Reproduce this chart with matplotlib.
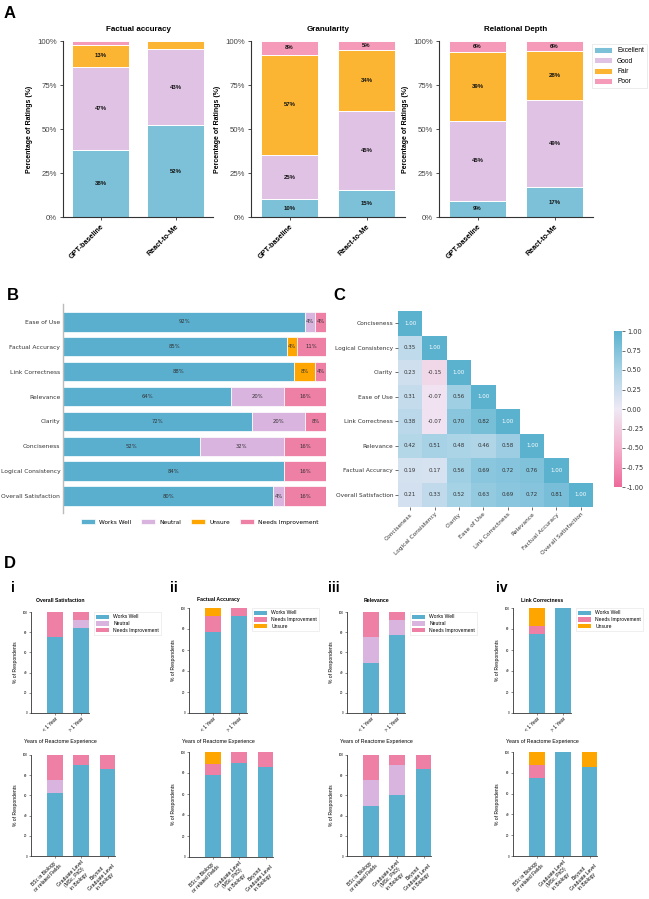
import numpy as np
import matplotlib
matplotlib.use("Agg")
import matplotlib.pyplot as plt
from matplotlib.colors import LinearSegmentedColormap
from matplotlib.ticker import PercentFormatter
import matplotlib.patches as mpatches

# ------------------------------------------------------------------ data
# Panel A (percent of ratings; order Excellent, Good, Fair, Poor)
a_models = ["GPT-baseline", "React-to-Me"]
a_ratings = ["Excellent", "Good", "Fair", "Poor"]
a_titles = ["Factual accuracy", "Granularity", "Relational Depth"]
factual_gpt = [38.0, 47.0, 13.0, 2.0]
factual_react = [52.0, 43.4, 4.6, 0.0]
granularity_gpt = [10.0, 25.3, 57.0, 7.7]
granularity_react = [15.1, 45.4, 34.4, 5.1]
relational_gpt = [9.2, 45.4, 39.4, 6.0]
relational_react = [17.0, 49.2, 28.1, 5.7]

# Panel B (percent; top to bottom)
b_criteria = ["Ease of Use", "Factual Accuracy", "Link Correctness", "Relevance",
              "Clarity", "Conciseness", "Logical Consistency", "Overall Satisfaction"]
b_works_well = [92, 85, 88, 64, 72, 52, 84, 80]
b_neutral = [4, 0, 0, 20, 20, 32, 0, 4]
b_unsure = [0, 4, 8, 0, 0, 0, 0, 0]
b_needs_impr = [4, 11, 4, 16, 8, 16, 16, 16]

# Panel C (lower-triangle correlations)
c_labels = ["Conciseness", "Logical Consistency", "Clarity", "Ease of Use",
            "Link Correctness", "Relevance", "Factual Accuracy", "Overall Satisfaction"]
c_rows = [
    [1.00],
    [0.35, 1.00],
    [0.23, -0.15, 1.00],
    [0.31, -0.07, 0.56, 1.00],
    [0.38, -0.07, 0.70, 0.82, 1.00],
    [0.42, 0.51, 0.48, 0.46, 0.58, 1.00],
    [0.19, 0.17, 0.56, 0.69, 0.72, 0.76, 1.00],
    [0.21, 0.33, 0.52, 0.63, 0.69, 0.72, 0.81, 1.00],
]

# Panel D
d_years = ["< 1 Year", "> 1 Year"]
d_edu = ["BSc in Biology\nor related Fields", "Graduate Level\n(MSc, PhD)\nin Biology",
         "Beyond\nGraduate Level\nin Biology"]
d_titles = ["Overall Satisfaction", "Factual Accuracy", "Relevance", "Link Correctness"]
# i Overall Satisfaction: Works Well, Neutral, Needs Improvement
i_years_ww = [75.0, 84.6]; i_years_neu = [0.0, 7.7]; i_years_ni = [25.0, 7.7]
i_edu_ww = [62.5, 90.0, 85.7]; i_edu_neu = [12.5, 0.0, 0.0]; i_edu_ni = [25.0, 10.0, 14.3]
# ii Factual Accuracy: Works Well, Needs Improvement, Unsure
ii_years_ww = [76.9, 92.3]; ii_years_ni = [15.4, 7.7]; ii_years_un = [7.7, 0.0]
ii_edu_ww = [77.8, 90.0, 85.7]; ii_edu_ni = [11.1, 10.0, 14.3]; ii_edu_un = [11.1, 0.0, 0.0]
# iii Relevance: Works Well, Neutral, Needs Improvement
iii_years_ww = [50.0, 76.9]; iii_years_neu = [25.0, 15.4]; iii_years_ni = [25.0, 7.7]
iii_edu_ww = [50.0, 60.0, 85.7]; iii_edu_neu = [25.0, 30.0, 0.0]; iii_edu_ni = [25.0, 10.0, 14.3]
# iv Link Correctness: Works Well, Needs Improvement, Unsure
iv_years_ww = [75.0, 100.0]; iv_years_ni = [8.3, 0.0]; iv_years_un = [16.7, 0.0]
iv_edu_ww = [75.0, 100.0, 85.7]; iv_edu_ni = [12.5, 0.0, 0.0]; iv_edu_un = [12.5, 0.0, 14.3]

# ------------------------------------------------------------------ style
W, H = 649, 899
fig = plt.figure(figsize=(W / 100, H / 100), dpi=100)
ARIAL = ["Liberation Sans", "DejaVu Sans"]
DEJA = ["DejaVu Sans"]


def add_ax(x0, y0, x1, y1):
    return fig.add_axes([x0 / W, 1 - y1 / H, (x1 - x0) / W, (y1 - y0) / H])


def ftext(x, y, s, **kw):
    fig.text(x / W, 1 - y / H, s, **kw)


A_COLORS = ["#7CC1D7", "#E0C2E4", "#FBB532", "#F59AB8"]
WW, NEU, UNS, NI = "#5AAFCF", "#D9B4DF", "#FFA500", "#EE7FA5"

# ------------------------------------------------------------------ panel A
ftext(4, 6, "A", fontsize=12, fontweight="bold", va="top", family=ARIAL)
a_data = [(factual_gpt, factual_react), (granularity_gpt, granularity_react),
          (relational_gpt, relational_react)]
a_boxes = [(63, 41, 213, 217), (251, 41, 405, 217), (439, 41, 593, 217)]
for k, (box, pair, title) in enumerate(zip(a_boxes, a_data, a_titles)):
    ax = add_ax(*box)
    x = np.arange(len(a_models))
    vals = np.array(pair).T  # ratings x models
    bottom = np.zeros(len(a_models))
    handles = []
    for r, name in enumerate(a_ratings):
        bars = ax.bar(x, vals[r], 0.75, bottom=bottom, color=A_COLORS[r],
                      edgecolor="white", linewidth=0.7, label=name)
        handles.append(bars)
        for xi, v, b in zip(x, vals[r], bottom):
            if v >= 5:
                ax.text(xi, b + v / 2, f"{v:.0f}%", ha="center", va="center",
                        fontsize=4.3, fontweight="bold", family=ARIAL, color="#111")
        bottom = bottom + vals[r]
    ax.set_xlim(-0.5, 1.5)
    ax.set_ylim(0, 100)
    ax.set_yticks([0, 25, 50, 75, 100])
    ax.yaxis.set_major_formatter(PercentFormatter(decimals=0))
    ax.set_xticks(x)
    ax.set_xticklabels(a_models, rotation=45, ha="right", rotation_mode="anchor",
                       fontsize=5.2, fontweight="bold", family=ARIAL)
    for lab in ax.get_yticklabels():
        lab.set_family(ARIAL)
        lab.set_fontsize(5.6)
        lab.set_color("#444")
    ax.set_ylabel("Percentage of Ratings (%)", fontsize=5, fontweight="bold",
                  family=ARIAL, labelpad=3)
    ax.set_title(title, fontsize=5.8, fontweight="bold", family=ARIAL, pad=7)
    for s in ["top", "right"]:
        ax.spines[s].set_visible(False)
    for s in ["left", "bottom"]:
        ax.spines[s].set_color("#333")
        ax.spines[s].set_linewidth(0.8)
    ax.tick_params(length=2.5, width=0.6, color="#333", pad=2)
    if k == 2:
        leg = ax.legend(loc="upper left", bbox_to_anchor=(0.97, 1.0), fontsize=4.8,
                        prop={"family": ARIAL, "size": 4.8}, frameon=True,
                        handlelength=2.6, handleheight=1.0, borderpad=0.4,
                        labelspacing=0.45, fancybox=False)
        leg.get_frame().set_edgecolor("#DDDDDD")
        leg.get_frame().set_linewidth(0.5)

# ------------------------------------------------------------------ panel B
ftext(7, 288, "B", fontsize=12, fontweight="bold", va="top", family=ARIAL)
axb = add_ax(63, 304, 326, 513)
yb = np.arange(len(b_criteria))
b_series = [(b_works_well, WW, "Works Well"), (b_neutral, NEU, "Neutral"),
            (b_unsure, UNS, "Unsure"), (b_needs_impr, NI, "Needs Improvement")]
left = np.zeros(len(b_criteria))
for vals, col, name in b_series:
    vals = np.array(vals, dtype=float)
    axb.barh(yb, vals, 0.78, left=left, color=col, edgecolor="white",
             linewidth=0.5, label=name)
    for yi, v, l in zip(yb, vals, left):
        if v > 0:
            axb.text(l + v / 2, yi, f"{v:.0f}%", ha="center", va="center",
                     fontsize=3.8, color="#333", family=DEJA)
    left = left + vals
axb.set_xlim(0, 100)
axb.set_ylim(7.68, -0.72)
axb.set_yticks(yb)
axb.set_yticklabels(b_criteria, fontsize=4.3, family=DEJA, color="#333")
axb.set_xticks([])
axb.tick_params(axis="y", length=0, pad=2)
for s in ["top", "right", "bottom"]:
    axb.spines[s].set_visible(False)
axb.spines["left"].set_color("#BBBBBB")
axb.spines["left"].set_linewidth(1.0)
axb.legend(loc="upper center", bbox_to_anchor=(0.52, -0.005), ncol=4, frameon=False,
           prop={"family": DEJA, "size": 4.2}, handlelength=2.4, handleheight=0.9,
           columnspacing=1.6, handletextpad=0.8)

# ------------------------------------------------------------------ panel C
ftext(333, 288, "C", fontsize=12, fontweight="bold", va="top", family=ARIAL)
n = len(c_labels)
mat = np.full((n, n), np.nan)
for i, row in enumerate(c_rows):
    for j, v in enumerate(row):
        mat[i, j] = v
cmap = LinearSegmentedColormap.from_list(
    "pb", ["#EE6A9A", "#F4B2CC", "#EFE9F5", "#A9D3E6", "#5AB2CF"])
cmap.set_bad((1, 1, 1, 0))
axc = add_ax(398, 311, 593, 507)
mesh = axc.pcolormesh(np.arange(n + 1), np.arange(n + 1), np.ma.masked_invalid(mat),
                      cmap=cmap, vmin=-1, vmax=1)
axc.set_xlim(0, n)
axc.set_ylim(n, 0)
for i in range(n):
    for j in range(n):
        if not np.isnan(mat[i, j]):
            axc.text(j + 0.5, i + 0.5, f"{mat[i, j]:.2f}", ha="center", va="center",
                     fontsize=4.0, family=DEJA,
                     color="white" if mat[i, j] > 0.95 else "#333")
axc.set_xticks(np.arange(n) + 0.5)
axc.set_yticks(np.arange(n) + 0.5)
axc.set_xticklabels(c_labels, rotation=45, ha="right", rotation_mode="anchor",
                    fontsize=4.2, family=DEJA, color="#333")
axc.set_yticklabels(c_labels, fontsize=4.2, family=DEJA, color="#333")
axc.tick_params(length=2, width=0.5, color="#333", pad=1.5)
for s in axc.spines.values():
    s.set_visible(False)
cax = add_ax(614, 331, 622, 487)
cb = fig.colorbar(mesh, cax=cax, ticks=[-1, -0.75, -0.5, -0.25, 0, 0.25, 0.5, 0.75, 1])
cb.outline.set_visible(False)
cb.ax.yaxis.set_major_formatter(matplotlib.ticker.FormatStrFormatter("%.2f"))
cb.ax.tick_params(labelsize=4.8, length=2, width=0.5, pad=1.5, colors="#333")
for lab in cb.ax.get_yticklabels():
    lab.set_family(DEJA)

# ------------------------------------------------------------------ panel D
ftext(4, 556, "D", fontsize=12, fontweight="bold", va="top", family=ARIAL)
romans = ["i", "ii", "iii", "iv"]
roman_x = [11, 170, 328, 496]
col_left = [31, 189, 347, 513]
top_y = [(612, 713), (608, 713), (612, 713), (608, 713)]
bot_y = [(755, 856), (752, 857), (755, 856), (752, 856)]
PX = 26.4  # pixels per category unit

d_sets = [
    ([(i_years_ww, WW, "Works Well"), (i_years_neu, NEU, "Neutral"), (i_years_ni, NI, "Needs Improvement")],
     [(i_edu_ww, WW, "Works Well"), (i_edu_neu, NEU, "Neutral"), (i_edu_ni, NI, "Needs Improvement")]),
    ([(ii_years_ww, WW, "Works Well"), (ii_years_ni, NI, "Needs Improvement"), (ii_years_un, UNS, "Unsure")],
     [(ii_edu_ww, WW, "Works Well"), (ii_edu_ni, NI, "Needs Improvement"), (ii_edu_un, UNS, "Unsure")]),
    ([(iii_years_ww, WW, "Works Well"), (iii_years_neu, NEU, "Neutral"), (iii_years_ni, NI, "Needs Improvement")],
     [(iii_edu_ww, WW, "Works Well"), (iii_edu_neu, NEU, "Neutral"), (iii_edu_ni, NI, "Needs Improvement")]),
    ([(iv_years_ww, WW, "Works Well"), (iv_years_ni, NI, "Needs Improvement"), (iv_years_un, UNS, "Unsure")],
     [(iv_edu_ww, WW, "Works Well"), (iv_edu_ni, NI, "Needs Improvement"), (iv_edu_un, UNS, "Unsure")]),
]


def d_style(ax, cats, ncat):
    ax.set_xlim(-0.9, ncat - 0.7)
    ax.set_ylim(0, 100)
    ax.set_yticks([0, 20, 40, 60, 80, 100])
    ax.set_xticks(np.arange(ncat))
    ax.set_xticklabels(cats, rotation=45, ha="right", rotation_mode="anchor",
                       fontsize=3.6, family=ARIAL, multialignment="center")
    for lab in ax.get_yticklabels():
        lab.set_family(ARIAL)
        lab.set_fontsize(2.2)
    ax.tick_params(length=1.5, width=0.4, pad=1, color="#333")
    for s in ["top", "right"]:
        ax.spines[s].set_visible(False)
    for s in ["left", "bottom"]:
        ax.spines[s].set_linewidth(0.6)
        ax.spines[s].set_color("#333")
    ax.set_ylabel("% of Respondents", fontsize=3.6, family=ARIAL, labelpad=3)


def draw_stack(ax, cats, series):
    x = np.arange(len(cats))
    bottom = np.zeros(len(cats))
    for vals, col, name in series:
        vals = np.array(vals, dtype=float)
        ax.bar(x, vals, 0.6, bottom=bottom, color=col, label=name, linewidth=0)
        bottom = bottom + vals


for k in range(4):
    L = col_left[k]
    ftext(roman_x[k], 581, romans[k], fontsize=10, fontweight="bold", va="top", family=ARIAL)
    top_series, bot_series = d_sets[k]
    # top: years of experience
    y0, y1 = top_y[k]
    ax = add_ax(L, y0, L + PX * 2.2, y1)
    draw_stack(ax, d_years, top_series)
    d_style(ax, d_years, 2)
    ax.set_xlabel("Years of Reactome Experience", fontsize=3.8, family=ARIAL, labelpad=4)
    ftext(L + PX * 1.1, 600, d_titles[k], fontsize=3.7, fontweight="bold",
          ha="center", va="center", family=ARIAL)
    leg = ax.legend(loc="upper left", bbox_to_anchor=(1.05, 1.02),
                    prop={"family": ARIAL, "size": 3.6}, frameon=True, fancybox=False,
                    handlelength=2.6, handleheight=0.9, borderpad=0.4, labelspacing=0.35)
    leg.get_frame().set_edgecolor("#DDDDDD")
    leg.get_frame().set_linewidth(0.4)
    # bottom: education
    y0, y1 = bot_y[k]
    ax2 = add_ax(L, y0, L + PX * 3.2, y1)
    draw_stack(ax2, d_edu, bot_series)
    d_style(ax2, d_edu, 3)

fig.savefig("out.png", dpi=100)
